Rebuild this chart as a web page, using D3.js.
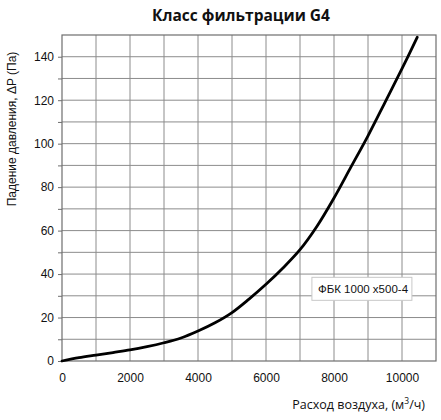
<!DOCTYPE html>
<html>
<head>
<meta charset="utf-8">
<script src="https://cdn.jsdelivr.net/npm/d3@7"></script>
<style>
  body { margin: 0; background: #fff; }
</style>
</head>
<body>
<div id="chart"></div>
<script>
// flow rate, m3/h
const flow = [0, 500, 1000, 1500, 2000, 2500, 3000, 3500, 4000, 4500, 5000, 5500,
              6000, 6500, 7000, 7500, 8000, 8500, 9000, 9500, 10000, 10450];
// pressure drop, Pa
const dp = [0, 1.5, 2.7, 3.9, 5.1, 6.6, 8.4, 10.6, 13.8, 17.6, 22.3, 28.5,
            35.3, 42.8, 51.2, 62, 75, 89.3, 103.6, 119, 134.5, 149];
const xTicks = [0, 2000, 4000, 6000, 8000, 10000];
const yTicks = [0, 20, 40, 60, 80, 100, 120, 140];
const seriesName = "ФБК 1000 x500-4";

const W = 441, H = 420;
const margin = {top: 35, right: 5, bottom: 59, left: 62};
const width = W - margin.left - margin.right;
const height = H - margin.top - margin.bottom;

const svg = d3.select("#chart").append("svg")
    .attr("width", W)
    .attr("height", H);

const g = svg.append("g")
    .attr("transform", `translate(${margin.left},${margin.top})`);

const x = d3.scaleLinear().domain([0, 11000]).range([0, width]);
const y = d3.scaleLinear().domain([0, 150]).range([height, 0]);

// grid lines every 1000 / 10
g.append("g")
    .selectAll("line")
    .data(d3.range(1000, 11000, 1000))
    .join("line")
    .attr("x1", d => x(d)).attr("x2", d => x(d))
    .attr("y1", 0).attr("y2", height)
    .attr("stroke", "#8c8c8c")
    .attr("stroke-width", 1);

g.append("g")
    .selectAll("line")
    .data(d3.range(10, 150, 10))
    .join("line")
    .attr("x1", 0).attr("x2", width)
    .attr("y1", d => y(d)).attr("y2", d => y(d))
    .attr("stroke", "#8c8c8c")
    .attr("stroke-width", 1);

// frame
g.append("rect")
    .attr("width", width).attr("height", height)
    .attr("fill", "none")
    .attr("stroke", "#6e6e6e")
    .attr("stroke-width", 1.2);

// y axis: small ticks every 10, labels every 20
const yAxis = g.append("g")
    .call(d3.axisLeft(y).tickValues(d3.range(0, 150, 10))
        .tickSize(4).tickPadding(4)
        .tickFormat(d => yTicks.includes(d) ? d : ""));
yAxis.select(".domain").remove();
yAxis.selectAll("line").attr("stroke", "#6e6e6e");
yAxis.selectAll("text")
    .attr("font-family", "Liberation Sans, Arial, sans-serif")
    .attr("font-size", 12)
    .attr("fill", "#111");

// x axis: labels only
const xAxis = g.append("g")
    .attr("transform", `translate(0,${height})`)
    .call(d3.axisBottom(x).tickValues(xTicks).tickSize(0).tickPadding(12)
        .tickFormat(d3.format("d")));
xAxis.select(".domain").remove();
xAxis.selectAll("text")
    .attr("font-family", "Liberation Sans, Arial, sans-serif")
    .attr("font-size", 12)
    .attr("fill", "#111");

// curve
const line = d3.line()
    .x((d, i) => x(flow[i]))
    .y(d => y(d))
    .curve(d3.curveCatmullRom.alpha(0.5));

g.append("path")
    .datum(dp)
    .attr("d", line)
    .attr("fill", "none")
    .attr("stroke", "#000")
    .attr("stroke-width", 2.8)
    .attr("stroke-linecap", "round");

// legend box
const lg = g.append("g")
    .attr("transform", `translate(${x(7350)},${y(38.5)})`);
lg.append("rect")
    .attr("width", 100).attr("height", 23)
    .attr("fill", "#fff")
    .attr("stroke", "#c8c8c8");
lg.append("text")
    .attr("x", 6).attr("y", 15.5)
    .attr("font-family", "Liberation Sans, Arial, sans-serif")
    .attr("font-size", 11.5)
    .attr("fill", "#111")
    .text(seriesName);

// title
svg.append("text")
    .attr("x", 241).attr("y", 21)
    .attr("text-anchor", "middle")
    .attr("font-family", "Open Sans, Noto Sans, sans-serif")
    .attr("font-weight", "bold")
    .attr("font-size", 15.5)
    .attr("fill", "#111")
    .text("Класс фильтрации G4");

// x axis title
svg.append("text")
    .attr("x", 425).attr("y", 409)
    .attr("text-anchor", "end")
    .attr("font-family", "Open Sans, Noto Sans, sans-serif")
    .attr("font-size", 12.5)
    .attr("fill", "#111")
    .text("Расход воздуха, (м")
    .append("tspan").attr("dy", -5).attr("font-size", 8.5).text("3")
    .select(function() { return this.parentNode; })
    .append("tspan").attr("dy", 5).text("/ч)");

// y axis title
svg.append("text")
    .attr("transform", "translate(16,129) rotate(-90)")
    .attr("text-anchor", "middle")
    .attr("font-family", "Liberation Sans, Arial, sans-serif")
    .attr("font-size", 12)
    .attr("fill", "#111")
    .text("Падение давления, ΔP (Па)");
</script>
</body>
</html>
